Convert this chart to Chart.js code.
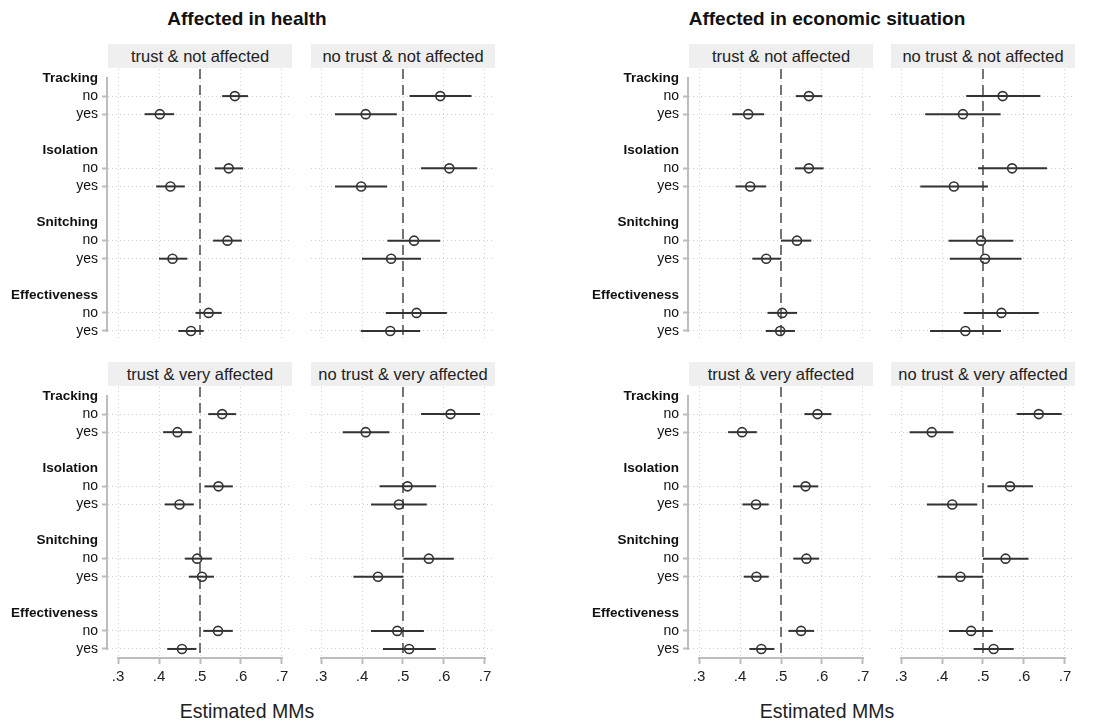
<!DOCTYPE html>
<html lang="en">
<head>
<meta charset="utf-8">
<title>Estimated MMs</title>
<script src="https://cdn.jsdelivr.net/npm/chart.js"></script>
<style>
    body { margin: 0; background: #fff; font-family: "Liberation Sans", Arial, sans-serif; color: #111; }
    #wrap { position: relative; width: 1103px; height: 724px; overflow: hidden; }
    #wrap canvas { position: absolute; }
    .strip { position: absolute; height: 24px; line-height: 24px; background: #efefef; text-align: center; font-size: 16.5px; color: #222; }
    .title { position: absolute; width: 400px; text-align: center; font-weight: bold; font-size: 19px; top: 8px; }
    .xtitle { position: absolute; width: 400px; text-align: center; font-size: 19.5px; top: 700px; color: #222; }
</style>
</head>
<body>
<div id="wrap">
    <div class="title" style="left:47px">Affected in health</div>
    <div class="title" style="left:627px">Affected in economic situation</div>
    <div class="xtitle" style="left:47px">Estimated MMs</div>
    <div class="xtitle" style="left:627px">Estimated MMs</div>
</div>

<script>
    // categories
    const attributes = ['Tracking', 'Isolation', 'Snitching', 'Effectiveness'];
    const levels = ['no', 'yes'];
    const xTicks = [0.3, 0.4, 0.5, 0.6, 0.7];
    const refValue = 0.5;

    // order of values: Tracking no/yes, Isolation no/yes, Snitching no/yes, Effectiveness no/yes

    // Affected in health
    const healthTrustNotEst = [0.585, 0.402, 0.570, 0.428, 0.567, 0.433, 0.521, 0.478];
    const healthTrustNotLo  = [0.554, 0.365, 0.536, 0.393, 0.532, 0.400, 0.489, 0.447];
    const healthTrustNotHi  = [0.617, 0.437, 0.605, 0.463, 0.602, 0.469, 0.553, 0.509];

    const healthNoTrustNotEst = [0.591, 0.409, 0.613, 0.398, 0.527, 0.471, 0.533, 0.469];
    const healthNoTrustNotLo  = [0.516, 0.334, 0.544, 0.334, 0.462, 0.400, 0.458, 0.397];
    const healthNoTrustNotHi  = [0.667, 0.485, 0.681, 0.461, 0.591, 0.544, 0.607, 0.542];

    const healthTrustVeryEst = [0.554, 0.445, 0.545, 0.450, 0.493, 0.505, 0.544, 0.456];
    const healthTrustVeryLo  = [0.520, 0.410, 0.511, 0.414, 0.463, 0.473, 0.508, 0.420];
    const healthTrustVeryHi  = [0.588, 0.480, 0.580, 0.485, 0.529, 0.534, 0.580, 0.491];

    const healthNoTrustVeryEst = [0.616, 0.409, 0.511, 0.490, 0.563, 0.439, 0.486, 0.515];
    const healthNoTrustVeryLo  = [0.544, 0.353, 0.443, 0.422, 0.501, 0.379, 0.422, 0.451];
    const healthNoTrustVeryHi  = [0.688, 0.467, 0.581, 0.558, 0.624, 0.501, 0.551, 0.580];

    // Affected in economic situation
    const econTrustNotEst = [0.568, 0.420, 0.568, 0.425, 0.539, 0.464, 0.503, 0.498];
    const econTrustNotLo  = [0.536, 0.381, 0.534, 0.389, 0.500, 0.430, 0.467, 0.463];
    const econTrustNotHi  = [0.601, 0.459, 0.604, 0.464, 0.574, 0.500, 0.539, 0.534];

    const econNoTrustNotEst = [0.548, 0.451, 0.571, 0.429, 0.495, 0.505, 0.545, 0.457];
    const econNoTrustNotLo  = [0.459, 0.359, 0.488, 0.347, 0.416, 0.419, 0.453, 0.371];
    const econNoTrustNotHi  = [0.640, 0.543, 0.656, 0.512, 0.574, 0.594, 0.636, 0.544];

    const econTrustVeryEst = [0.589, 0.405, 0.560, 0.439, 0.562, 0.440, 0.549, 0.452];
    const econTrustVeryLo  = [0.557, 0.371, 0.529, 0.406, 0.530, 0.409, 0.518, 0.423];
    const econTrustVeryHi  = [0.623, 0.441, 0.591, 0.470, 0.593, 0.470, 0.581, 0.484];

    const econNoTrustVeryEst = [0.636, 0.375, 0.566, 0.425, 0.555, 0.445, 0.471, 0.526];
    const econNoTrustVeryLo  = [0.582, 0.321, 0.511, 0.363, 0.500, 0.389, 0.417, 0.477];
    const econNoTrustVeryHi  = [0.692, 0.428, 0.622, 0.486, 0.611, 0.500, 0.524, 0.575];

    // row layout: header, no, yes, gap for each attribute
    const rowLabels = [];
    attributes.forEach((a, i) => {
        rowLabels.push(a, ...levels);
        if (i < attributes.length - 1) rowLabels.push('');
    });
    const tickRows = rowLabels.map((l, i) => i).filter(i => rowLabels[i] !== '');
    const isHeader = c => !c.tick || attributes.includes(rowLabels[c.tick.value]);
    const rowOf = i => Math.floor(i / 2) * 4 + 1 + (i % 2);

    const panels = [
        { strip: 'trust & not affected',       est: healthTrustNotEst,    lo: healthTrustNotLo,    hi: healthTrustNotHi,    area: 108, top: 69,  labels: true,  xAxis: false },
        { strip: 'no trust & not affected',    est: healthNoTrustNotEst,  lo: healthNoTrustNotLo,  hi: healthNoTrustNotHi,  area: 311, top: 69,  labels: false, xAxis: false },
        { strip: 'trust & very affected',      est: healthTrustVeryEst,   lo: healthTrustVeryLo,   hi: healthTrustVeryHi,   area: 108, top: 387, labels: true,  xAxis: true },
        { strip: 'no trust & very affected',   est: healthNoTrustVeryEst, lo: healthNoTrustVeryLo, hi: healthNoTrustVeryHi, area: 311, top: 387, labels: false, xAxis: true },
        { strip: 'trust & not affected',       est: econTrustNotEst,      lo: econTrustNotLo,      hi: econTrustNotHi,      area: 689, top: 69,  labels: true,  xAxis: false },
        { strip: 'no trust & not affected',    est: econNoTrustNotEst,    lo: econNoTrustNotLo,    hi: econNoTrustNotHi,    area: 891, top: 69,  labels: false, xAxis: false },
        { strip: 'trust & very affected',      est: econTrustVeryEst,     lo: econTrustVeryLo,     hi: econTrustVeryHi,     area: 689, top: 387, labels: true,  xAxis: true },
        { strip: 'no trust & very affected',   est: econNoTrustVeryEst,   lo: econNoTrustVeryLo,   hi: econNoTrustVeryHi,   area: 891, top: 387, labels: false, xAxis: true }
    ];

    const AREA_W = 184, AREA_H = 271, LABEL_W = 108, XAXIS_H = 34;
    const axisGrey = '#bdbdbd';
    const gridGrey = '#cfcfcf';
    const ink = '#333';
    const fontFamily = '"Liberation Sans", Arial, sans-serif';

    // axis lines like Stata: y line from first to last row, x line from .3 to .7
    const axisLines = {
        id: 'axisLines',
        beforeDatasetsDraw(chart, args, opts) {
            const { ctx, scales: { x, y } } = chart;
            ctx.save();
            ctx.strokeStyle = axisGrey;
            ctx.lineWidth = 2;
            if (opts.yLine) {
                ctx.beginPath();
                ctx.moveTo(x.left - 1, y.getPixelForValue(0) - 1);
                ctx.lineTo(x.left - 1, y.getPixelForValue(rowLabels.length - 1) + 1);
                ctx.stroke();
            }
            if (opts.xLine) {
                ctx.beginPath();
                ctx.moveTo(x.getPixelForValue(xTicks[0]) - 1, y.bottom);
                ctx.lineTo(x.getPixelForValue(xTicks[xTicks.length - 1]) + 1, y.bottom);
                ctx.stroke();
            }
            ctx.restore();
        }
    };

    const wrap = document.getElementById('wrap');

    panels.forEach(p => {
        const strip = document.createElement('div');
        strip.className = 'strip';
        strip.textContent = p.strip;
        strip.style.left = p.area + 'px';
        strip.style.width = AREA_W + 'px';
        strip.style.top = (p.top - 25) + 'px';
        wrap.appendChild(strip);

        const yW = p.labels ? LABEL_W : 0;
        const xH = p.xAxis ? XAXIS_H : 0;
        const canvas = document.createElement('canvas');
        canvas.width = AREA_W + yW;
        canvas.height = AREA_H + xH;
        canvas.style.left = (p.area - yW) + 'px';
        canvas.style.top = p.top + 'px';
        wrap.appendChild(canvas);

        const datasets = [];
        datasets.push({
            data: p.est.map((v, i) => ({ x: v, y: rowOf(i) })),
            showLine: false,
            pointRadius: 4.5,
            pointBorderWidth: 1.6,
            pointBorderColor: ink,
            pointBackgroundColor: 'rgba(0,0,0,0)',
            order: 0
        });
        p.est.forEach((v, i) => {
            datasets.push({
                data: [{ x: p.lo[i], y: rowOf(i) }, { x: p.hi[i], y: rowOf(i) }],
                borderColor: ink,
                borderWidth: 2,
                pointRadius: 0,
                order: 1
            });
        });
        datasets.push({
            data: [{ x: refValue, y: -0.5 }, { x: refValue, y: rowLabels.length - 0.5 }],
            borderColor: '#555',
            borderWidth: 1.6,
            borderDash: [10, 6],
            pointRadius: 0,
            order: 2
        });

        new Chart(canvas, {
            type: 'line',
            data: { datasets: datasets },
            options: {
                responsive: false,
                animation: false,
                layout: { padding: 0, autoPadding: false },
                plugins: {
                    legend: { display: false },
                    tooltip: { enabled: false },
                    axisLines: { yLine: p.labels, xLine: p.xAxis }
                },
                scales: {
                    x: {
                        type: 'linear',
                        min: 0.2756,
                        max: 0.7244,
                        afterBuildTicks: s => { s.ticks = xTicks.map(v => ({ value: v })); },
                        afterFit: s => { s.height = xH; s.paddingLeft = 0; s.paddingRight = 0; },
                        border: { display: false, dash: [1, 3] },
                        grid: {
                            color: gridGrey,
                            lineWidth: 1,
                            drawTicks: p.xAxis,
                            tickLength: 6,
                            tickColor: axisGrey,
                            tickWidth: 2
                        },
                        ticks: {
                            display: p.xAxis,
                            padding: 4,
                            maxRotation: 0,
                            color: '#222',
                            font: { family: fontFamily, size: 15 },
                            callback: v => String(v).replace(/^0/, '')
                        }
                    },
                    y: {
                        type: 'linear',
                        reverse: true,
                        min: -0.5,
                        max: rowLabels.length - 0.5,
                        afterBuildTicks: s => { s.ticks = tickRows.map(v => ({ value: v })); },
                        afterFit: s => { s.width = yW; s.paddingTop = 0; s.paddingBottom = 0; },
                        border: { display: false, dash: [1, 3] },
                        grid: {
                            color: c => isHeader(c) ? 'rgba(0,0,0,0)' : gridGrey,
                            lineWidth: 1,
                            drawTicks: p.labels,
                            tickLength: 6,
                            tickColor: c => isHeader(c) ? 'rgba(0,0,0,0)' : axisGrey,
                            tickWidth: 2
                        },
                        ticks: {
                            display: p.labels,
                            padding: 4,
                            color: '#111',
                            autoSkip: false,
                            font: c => (c.tick && attributes.includes(rowLabels[c.tick.value]))
                                ? { family: fontFamily, size: 13.5, weight: 'bold' }
                                : { family: fontFamily, size: 14 },
                            callback: v => rowLabels[v]
                        }
                    }
                }
            },
            plugins: [axisLines]
        });
    });
</script>
</body>
</html>
